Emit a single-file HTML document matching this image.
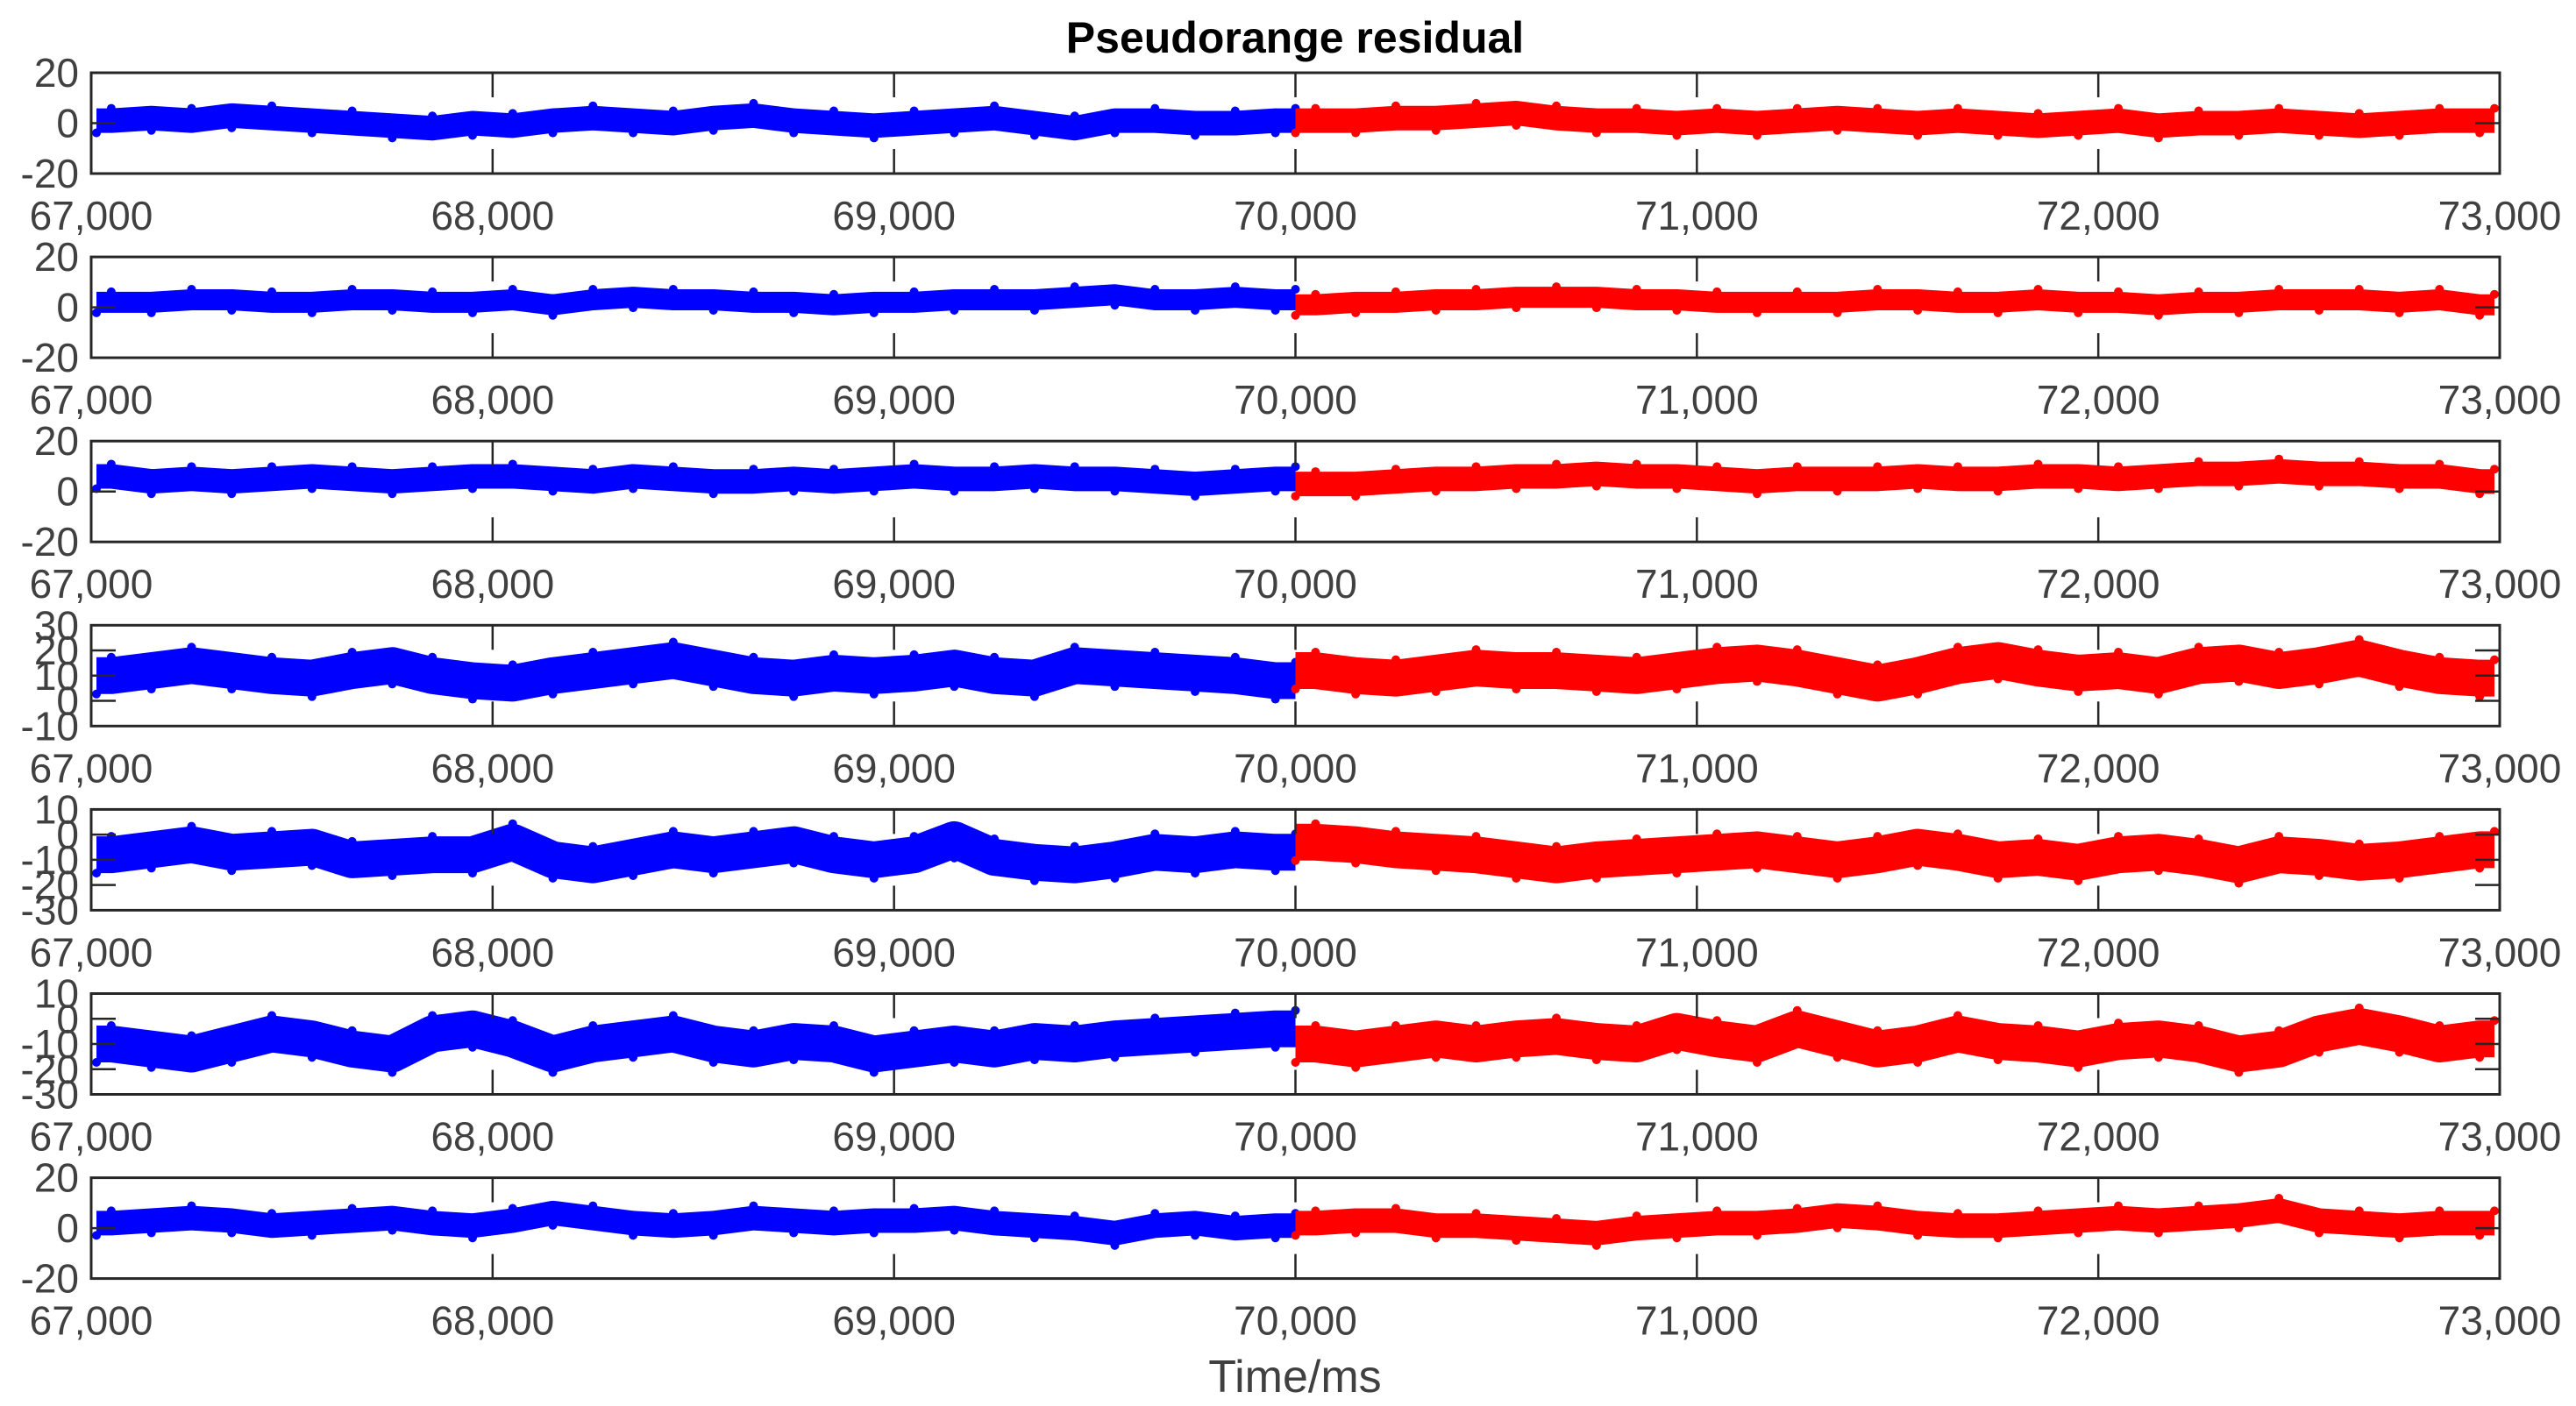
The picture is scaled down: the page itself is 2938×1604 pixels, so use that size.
<!DOCTYPE html>
<html><head><meta charset="utf-8"><style>
html,body{margin:0;padding:0;background:#fff}
svg{display:block}
text{font-family:"Liberation Sans",sans-serif}
</style></head><body>
<svg id="chart" width="2938" height="1604" viewBox="0 0 2938 1604" xmlns="http://www.w3.org/2000/svg">
<text x="1477" y="60" text-anchor="middle" font-size="50" font-weight="bold" fill="#000">Pseudorange residual</text>
<text x="1477" y="1588" text-anchor="middle" font-size="52" fill="#404040">Time/ms</text>
<g id="panels"></g>
</svg>
<script>
const xTicks = [67000, 68000, 69000, 70000, 71000, 72000, 73000];
const xTickLabels = ["67,000","68,000","69,000","70,000","71,000","72,000","73,000"];
const splitTime = 70000;
const sampleStart = 67050;
const sampleStep = 100;
const yTicksA = [-20, 0, 20];
const yTicksB = [-10, 0, 10, 20, 30];
const yTicksC = [-30, -20, -10, 0, 10];
const s1 = [1,2,1,3,2,1,0,-1,-2,0,-1,1,2,1,0,2,3,1,0,-1,0,1,2,0,-2,1,1,0,0,1,
            1,1,2,2,3,4,2,1,1,0,1,0,1,2,1,0,1,0,-1,0,1,-1,0,0,1,0,-1,0,1,1];
const s2 = [2,2,3,3,2,2,3,3,2,2,3,1,3,4,3,3,2,2,1,2,2,3,3,3,4,5,3,3,4,3,
            1,2,2,3,3,4,4,4,3,3,2,2,2,2,3,3,2,2,3,2,2,1,2,2,3,3,3,2,3,1];
const s3 = [6,4,5,4,5,6,5,4,5,6,6,5,4,6,5,4,4,5,4,5,6,5,5,6,5,5,4,3,4,5,
            3,3,4,5,5,6,6,7,6,6,5,4,5,5,5,6,5,5,6,6,5,6,7,7,8,7,7,6,6,4];
const s4 = [10,12,14,12,10,9,12,14,10,8,7,10,12,14,16,13,10,9,11,10,11,13,10,9,14,13,12,11,10,8,
            12,10,9,11,13,12,12,11,10,12,14,15,13,10,7,10,14,16,13,11,12,10,14,15,12,14,17,13,10,9];
const s5 = [-8,-6,-4,-7,-6,-5,-10,-9,-8,-8,-3,-10,-12,-9,-6,-8,-6,-4,-8,-10,-8,-2,-9,-11,-12,-10,-7,-8,-6,-7,
            -3,-4,-6,-7,-8,-10,-12,-10,-9,-8,-7,-6,-8,-10,-8,-5,-7,-10,-9,-11,-8,-7,-9,-12,-8,-9,-11,-10,-8,-6];
const s6 = [-10,-12,-14,-10,-6,-8,-12,-14,-6,-4,-8,-14,-10,-8,-6,-10,-12,-9,-10,-14,-12,-10,-12,-9,-10,-8,-7,-6,-5,-4,
            -10,-12,-10,-8,-10,-8,-7,-9,-10,-5,-8,-10,-4,-8,-12,-10,-6,-9,-10,-12,-9,-8,-10,-14,-12,-6,-3,-6,-10,-8];
const s7 = [2,3,4,3,1,2,3,4,2,1,3,6,4,2,1,2,4,3,2,3,3,4,2,1,0,-2,1,2,0,1,
            2,3,3,1,1,0,-1,-2,0,1,2,2,3,5,4,2,1,1,2,3,4,3,4,5,7,3,2,1,2,2];

const NS = "http://www.w3.org/2000/svg";
const L = 104, R = 2851, TOP0 = 83, PH = 115, GAP = 210.1;
const panels = [
  {vals:s1, ticks:yTicksA, bw:28},
  {vals:s2, ticks:yTicksA, bw:24},
  {vals:s3, ticks:yTicksA, bw:28},
  {vals:s4, ticks:yTicksB, bw:42},
  {vals:s5, ticks:yTicksC, bw:42},
  {vals:s6, ticks:yTicksC, bw:42},
  {vals:s7, ticks:yTicksA, bw:28}
];
function xScale(t){ return L + (t - xTicks[0]) / (xTicks[xTicks.length-1] - xTicks[0]) * (R - L); }
function mk(tag, attrs, parent){
  const e = document.createElementNS(NS, tag);
  for (const k in attrs) e.setAttribute(k, attrs[k]);
  parent.appendChild(e); return e;
}
const root = document.getElementById("panels");
panels.forEach((p, i) => {
  const top = TOP0 + i * GAP, bot = top + PH;
  const ymin = p.ticks[0], ymax = p.ticks[p.ticks.length-1];
  const yScale = v => bot - (v - ymin) / (ymax - ymin) * PH;
  const g = mk("g", {}, root);
  
  
  ["before","after"].forEach(part => {
    const pts = [];
    p.vals.forEach((v, k) => {
      const t = sampleStart + k * sampleStep;
      const isBefore = t < splitTime;
      if ((part === "before") === isBefore) pts.push([xScale(t), yScale(v)]);
    });
    if (part === "before") pts.unshift([xScale(xTicks[0]) + 6, yScale(p.vals[0])]), pts.push([xScale(splitTime), yScale(p.vals[29])]);
    else pts.unshift([xScale(splitTime), yScale(p.vals[30])]), pts.push([xScale(xTicks[6]) - 6, yScale(p.vals[59])]);
    const col = part === "before" ? "#0000ff" : "#ff0000";
    const pl = mk("polyline", {points: pts.map(q => q.join(",")).join(" "), fill:"none",
      stroke: col, "stroke-width": p.bw, "stroke-linejoin":"round", "stroke-linecap":"butt"}, g);
    
    
    pts.forEach((q, k) => {
      const c = mk("circle", {cx:q[0], cy:q[1] + (k % 2 ? -1 : 1) * p.bw * 0.5, r:5, fill: col}, g);
      
      
    });
  });
  const fr = mk("rect", {x:L, y:top, width:R-L, height:PH, fill:"none", stroke:"#262626", "stroke-width":3}, g);
  
  
  xTicks.forEach((t, k) => {
    const x = xScale(t);
    const l1 = mk("line", {x1:x, x2:x, y1:top, y2:top+28, stroke:"#262626", "stroke-width":2.5}, g);
    
    
    const l2 = mk("line", {x1:x, x2:x, y1:bot, y2:bot-28, stroke:"#262626", "stroke-width":2.5}, g);
    
    
    const tx = mk("text", {x:x, y:bot+64, "text-anchor":"middle", "font-size":46, fill:"#404040"}, g);
    tx.textContent = xTickLabels[k];
    
    
  });
  p.ticks.forEach(v => {
    const y = yScale(v);
    if (v !== ymin && v !== ymax) {
      const a = mk("line", {x1:L, x2:L+28, y1:y, y2:y, stroke:"#262626", "stroke-width":2.5}, g);
      
      
      const b = mk("line", {x1:R, x2:R-28, y1:y, y2:y, stroke:"#262626", "stroke-width":2.5}, g);
      
      
    }
    const tx = mk("text", {x:L-14, y:y+16, "text-anchor":"end", "font-size":46, fill:"#404040"}, g);
    tx.textContent = String(v);
    
    
  });
});
</script>
</body></html>
